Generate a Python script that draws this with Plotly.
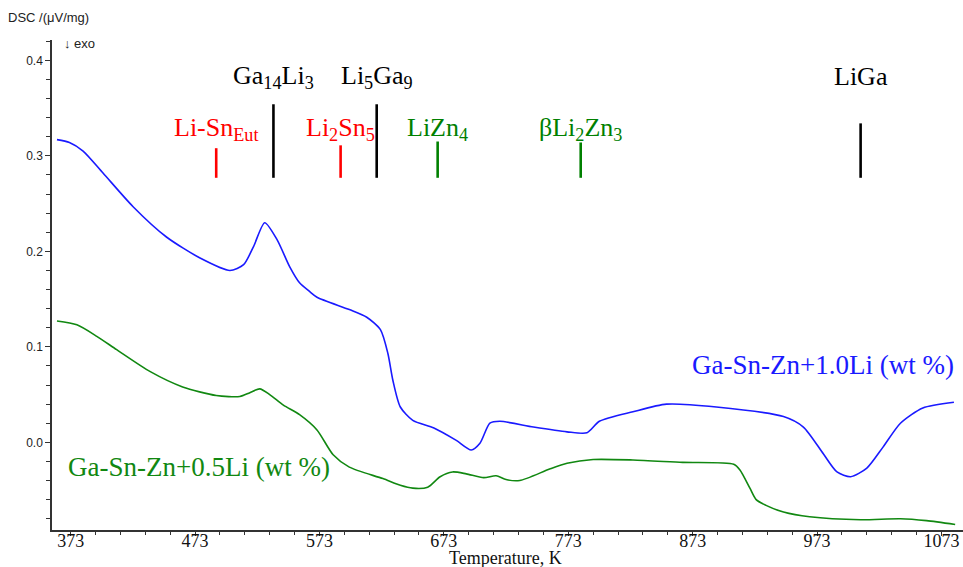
import plotly.graph_objects as go

# DSC heating curves, temperature in K, signal in µV/mg
temp_10li = [362, 372, 383, 399, 423, 450, 477, 501, 512, 520, 529, 539, 549, 557, 565, 571,
             597, 611, 622, 628, 632, 638, 648, 665, 683, 695, 702, 710, 718, 745, 772,
             788, 798, 825, 852, 892, 946, 962, 978, 989, 1000, 1013, 1026, 1040, 1058, 1083]
dsc_10li = [0.317, 0.314, 0.305, 0.282, 0.247, 0.215, 0.193, 0.180, 0.186, 0.205, 0.230, 0.212,
            0.184, 0.167, 0.158, 0.152, 0.139, 0.131, 0.118, 0.093, 0.065, 0.037, 0.023,
            0.015, 0.002, -0.008, -0.001, 0.020, 0.022, 0.016, 0.011, 0.010, 0.022, 0.032,
            0.040, 0.037, 0.027, 0.016, -0.012, -0.031, -0.036, -0.027, -0.005, 0.020,
            0.036, 0.042]

temp_05li = [362, 378, 394, 410, 437, 463, 490, 509, 517, 525, 533, 544, 557, 571, 584, 597,
             624, 638, 648, 660, 670, 680, 691, 705, 715, 723, 734, 758, 772, 793, 825,
             865, 906, 911, 919, 924, 932, 946, 967, 1008, 1040, 1061, 1084]
dsc_05li = [0.127, 0.123, 0.111, 0.097, 0.074, 0.058, 0.049, 0.048, 0.052, 0.056, 0.050, 0.039,
            0.029, 0.013, -0.013, -0.026, -0.038, -0.045, -0.048, -0.047, -0.036, -0.031,
            -0.033, -0.037, -0.035, -0.039, -0.040, -0.028, -0.022, -0.018, -0.0185,
            -0.021, -0.023, -0.029, -0.048, -0.060, -0.066, -0.073, -0.078, -0.081,
            -0.080, -0.082, -0.086]

# Phase transition markers
phase_names = ["Li-Sn<sub>Eut</sub>", "Ga<sub>14</sub>Li<sub>3</sub>", "Li<sub>2</sub>Sn<sub>5</sub>",
               "Li<sub>5</sub>Ga<sub>9</sub>", "LiZn<sub>4</sub>", "βLi<sub>2</sub>Zn<sub>3</sub>", "LiGa"]
phase_temp = [490, 536, 590, 619, 668, 783, 1008]
phase_top = [0.308, 0.354, 0.311, 0.354, 0.315, 0.314, 0.334]
phase_base = 0.277
phase_colors = ["#ff0000", "#000000", "#ff0000", "#000000", "#008000", "#008000", "#000000"]
phase_row = [1, 0, 1, 0, 1, 1, 0]  # 0 = upper label row, 1 = lower label row

x_ticks = [373, 473, 573, 673, 773, 873, 973, 1073]
y_ticks = [0.0, 0.1, 0.2, 0.3, 0.4]

BLUE = "#1a1aff"
GREEN = "#118811"
SERIF = "Liberation Serif, Times New Roman, serif"
SANS = "Liberation Sans, Arial, sans-serif"

fig = go.Figure()

fig.add_trace(go.Scatter(x=temp_10li, y=dsc_10li, mode="lines",
                         line=dict(color=BLUE, width=1.6, shape="spline", smoothing=0.7),
                         hoverinfo="skip"))
fig.add_trace(go.Scatter(x=temp_05li, y=dsc_05li, mode="lines",
                         line=dict(color=GREEN, width=1.6, shape="spline", smoothing=0.7),
                         hoverinfo="skip"))

for name, t, top, col, row in zip(phase_names, phase_temp, phase_top, phase_colors, phase_row):
    fig.add_trace(go.Scatter(x=[t, t], y=[phase_base, top], mode="lines",
                             line=dict(color=col, width=2.6), hoverinfo="skip"))
    fig.add_annotation(x=t, y=0.383 if row == 0 else 0.328, text=name, showarrow=False,
                       xanchor="center", yanchor="middle",
                       font=dict(family=SERIF, size=26, color=col))

fig.add_annotation(x=1085, y=0.081, text="Ga-Sn-Zn+1.0Li (wt %)", showarrow=False,
                   xanchor="right", yanchor="middle",
                   font=dict(family=SERIF, size=27, color=BLUE))
fig.add_annotation(x=369, y=-0.026, text="Ga-Sn-Zn+0.5Li (wt %)", showarrow=False,
                   xanchor="left", yanchor="middle",
                   font=dict(family=SERIF, size=27, color=GREEN))

# axis captions
fig.add_annotation(xref="paper", yref="paper", x=-0.0505, y=1.045,
                   text="DSC /(μV/mg)", showarrow=False, xanchor="left", yanchor="middle",
                   font=dict(family=SANS, size=13, color="#222"))
fig.add_annotation(xref="paper", yref="paper", x=0.0105, y=0.993,
                   text="↓ exo", showarrow=False, xanchor="left", yanchor="middle",
                   font=dict(family=SANS, size=13, color="#222"))
fig.add_annotation(xref="paper", yref="paper", x=0.498, y=-0.0575,
                   text="Temperature, K", showarrow=False, xanchor="center", yanchor="middle",
                   font=dict(family=SERIF, size=18, color="#111"))

fig.update_layout(
    width=963, height=567,
    margin=dict(l=52, r=0, t=40, b=37),
    paper_bgcolor="white", plot_bgcolor="white",
    showlegend=False,
    xaxis=dict(range=[358, 1090.3], tickvals=x_ticks, ticks="outside", ticklen=4,
               tickcolor="#333", showline=True, linecolor="#333", linewidth=1.5,
               showgrid=False, zeroline=False, automargin=False, ticklabelstandoff=-10,
               minor=dict(dtick=20, tick0=373, ticks="outside", ticklen=3, tickcolor="#333"),
               tickfont=dict(family=SERIF, size=18, color="#111")),
    yaxis=dict(range=[-0.0918, 0.4213], tickvals=y_ticks,
               ticktext=["%.1f" % v for v in y_ticks],
               ticks="outside", ticklen=5, tickcolor="#333",
               showline=True, linecolor="#333", linewidth=1.5,
               showgrid=False, zeroline=False, automargin=False,
               minor=dict(dtick=0.02, tick0=0, ticks="outside", ticklen=4, tickcolor="#333"),
               tickfont=dict(family=SANS, size=12, color="#222")),
)

fig.write_html("out.html")
